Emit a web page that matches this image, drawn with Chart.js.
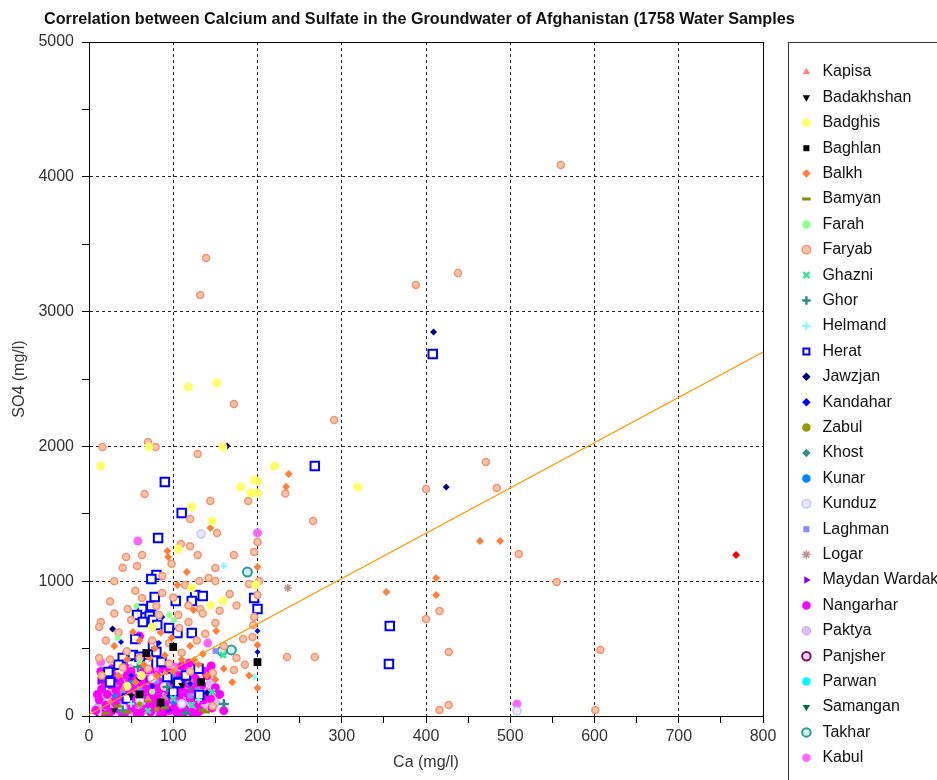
<!DOCTYPE html>
<html>
<head>
<meta charset="utf-8">
<script src="https://cdn.jsdelivr.net/npm/chart.js@4.4.1/dist/chart.umd.min.js"></script>
<style>
  html, body { margin: 0; padding: 0; background: #fff; overflow: hidden; }
  #outer { width: 937px; height: 780px; overflow: hidden; }
  #wrap { position: relative; width: 945px; height: 780px; }
  #title {
    position: absolute; left: 44px; top: 9px; line-height: 20px;
    font: bold 16.2px "Liberation Sans", Arial, sans-serif; color: #111;
    white-space: nowrap;
  }
</style>
</head>
<body>
<div id="outer">
<div id="wrap">
  <canvas id="chart"></canvas>
  <div id="title">Correlation between Calcium and Sulfate in the Groundwater of Afghanistan (1758 Water Samples</div>
</div>
</div>
<script>
// Provinces in legend order
const provinces = ["Kapisa", "Badakhshan", "Badghis", "Baghlan", "Balkh", "Bamyan", "Farah", "Faryab",
  "Ghazni", "Ghor", "Helmand", "Herat", "Jawzjan", "Kandahar", "Zabul", "Khost", "Kunar", "Kunduz",
  "Laghman", "Logar", "Maydan Wardak", "Nangarhar", "Paktya", "Panjsher", "Parwan", "Samangan", "Takhar", "Kabul"];

// [Ca, SO4] in mg/l
const kapisa = [[40,200],[90,320],[70,130],[25,110]];
const badakhshan = [[50,150],[85,90],[110,230],[30,40]];
const badghis = [[118,2441],[152,2470],[14,1855],[71,1996],[159,1996],[220,1855],[180,1699],[196,1750],
  [200,1743],[192,1654],[200,1654],[319,1699],[122,1550],[146,1447],[106,1239],[122,950],[144,823],
  [159,853],[198,972],[75,660],[45,220],[62,300]];
const baghlan = [[200,400],[68,467],[100,512],[133,252],[60,160],[85,100]];
const balkh = [[237,1795],[234,1700],[464,1298],[488,1298],[353,920],[412,1024],[412,898],[200,208],
  [144,1395],[93,1224],[94,1180],[200,1106],[116,1068],[105,972],[124,786],[151,630],[52,623],[200,527],
  [125,415],[60,560],[78,500],[90,450],[110,420],[130,380],[100,330],[80,300],[140,300],[65,380],[45,420],
  [35,300],[150,270],[160,350],[170,250],[190,300],[120,520],[85,620],[30,520],[55,250],[72,430],[98,580],[135,460]];
const bamyan = [[139,30],[70,111],[34,74],[46,30],[135,44],[90,60],[20,20]];
const farah = [[56,816],[95,749],[34,578],[101,712],[60,400],[75,180]];
const faryab = [[560,4087],[139,3398],[132,3123],[438,3286],[388,3197],[291,2196],[172,2315],[16,1996],
  [70,2033],[79,1996],[129,1944],[471,1884],[484,1691],[400,1684],[233,1650],[66,1647],[144,1595],
  [189,1595],[120,1461],[152,1357],[200,1291],[196,1217],[63,1194],[57,1113],[109,1276],[129,1194],
  [172,1194],[150,1098],[87,1039],[142,1024],[150,1001],[131,1001],[114,972],[202,1001],[87,912],[63,875],
  [80,816],[46,794],[167,905],[132,794],[106,749],[200,898],[14,697],[50,712],[83,749],[107,653],[118,697],
  [150,690],[183,571],[194,586],[196,734],[195,675],[172,341],[147,319],[147,74],[266,1447],[235,438],
  [268,438],[510,1202],[555,994],[607,490],[601,44],[416,779],[400,720],[427,475],[427,82],[416,44],
  [30,1000],[40,1100],[25,850],[55,930],[35,620],[20,560],[45,480],[60,430],[75,560],[95,540],[110,470],
  [128,560],[138,610],[160,520],[175,430],[185,380],[120,330],[95,390],[70,350],[40,360],[25,420],[12,430],
  [15,300],[100,880],[118,820],[135,760],[155,780],[175,820],[190,980],[12,660],[30,760],[44,1180],[98,1130],[120,1260]];
const ghazni = [[159,452],[146,178],[122,82],[70,40],[100,130]];
const ghor = [[160,89],[58,363],[93,215],[40,40],[115,20]];
const helmand = [[160,1113],[196,290],[130,120],[50,90]];
const herat = [[408,2685],[268,1855],[90,1736],[110,1506],[357,668],[356,386],[82,1320],[80,1046],[74,1016],
  [78,883],[103,853],[126,898],[122,853],[135,890],[196,875],[200,794],[74,816],[63,794],[57,749],[72,742],
  [64,697],[76,712],[81,675],[55,571],[95,653],[105,616],[122,616],[46,445],[52,452],[76,519],[80,475],
  [70,393],[86,400],[23,326],[107,252],[131,156],[106,245],[93,290],[40,430],[60,440],[35,380],[25,250],
  [115,300],[130,350],[100,180],[45,130]];
const jawzjan = [[409,2849],[424,1699],[164,2003],[28,645],[100,250],[60,280],[140,170]];
const kandahar = [[38,549],[83,541],[200,630],[200,475],[87,735],[50,300],[75,220],[120,240],[95,150]];
const zabul = [[60,90],[100,150],[80,50]];
const khost = [[40,110],[90,70],[120,200]];
const kunar = [[50,250],[100,100],[75,180],[30,150]];
const kunduz = [[133,1350],[508,37],[131,163],[90,220],[60,120],[110,90],[40,60],[75,280]];
const laghman = [[150,482],[129,193],[80,260],[100,290],[60,200],[120,150],[40,180]];
const logar = [[236,950],[120,252],[90,140],[60,80]];
const maydanWardak = [[13,260],[30,262],[50,258],[70,262],[90,258],[94,44],[110,260],[60,120]];
const nangarhar = [[8,40],[12,120],[15,200],[18,260],[20,80],[22,160],[25,30],[26,230],[28,300],[30,110],
  [32,190],[35,50],[36,260],[38,140],[40,220],[42,20],[44,90],[45,300],[47,170],[48,250],[50,60],[52,130],
  [54,210],[55,280],[57,20],[58,100],[60,170],[62,240],[63,320],[65,50],[66,140],[68,200],[70,270],[72,80],
  [73,30],[75,160],[76,230],[78,110],[80,300],[81,60],[83,190],[84,250],[86,130],[88,20],[89,210],[90,90],
  [92,280],[94,160],[95,40],[97,230],[99,120],[100,180],[102,70],[104,260],[105,20],[107,150],[109,210],
  [110,100],[112,290],[114,50],[116,170],[118,240],[120,130],[122,30],[124,200],[126,280],[128,90],[130,160],
  [132,40],[134,230],[136,120],[27,350],[50,330],[72,340],[95,320],[118,330],[140,300],[14,330],[20,10],
  [40,10],[60,5],[85,8],[108,12],[128,15],[33,80],[57,260],[82,150],[106,300],[125,240],[10,160],[144,130],
  [146,60],[150,210],[138,330],[88,350],[64,380],[42,370],[110,370],[155,160],[160,40],[60,593],[145,371],[119,393]];
const paktya = [[10,50],[16,150],[22,250],[28,60],[34,180],[38,100],[43,280],[46,40],[51,160],[56,220],
  [59,80],[64,300],[67,120],[71,190],[74,40],[79,250],[82,90],[85,170],[91,230],[93,60],[96,290],[101,140],
  [103,30],[106,200],[111,80],[113,250],[117,120],[121,190],[123,60],[127,270],[131,110],[24,330],[48,350],
  [70,330],[98,340],[31,20],[53,10],[77,15],[99,20],[119,25],[62,30],[87,40],[17,90],[37,240],[58,140],
  [112,160],[140,90],[133,200],[150,100],[145,250]];
const panjsher = [[13,22],[77,89],[110,30],[40,50],[95,15]];
const parwan = [[20,30],[35,15],[60,40],[80,20],[100,60],[45,100],[110,10],[125,70],[10,80]];
const samangan = [[116,156],[82,245],[118,148],[52,22],[100,15],[30,90],[70,60]];
const takhar = [[188,1068],[169,490],[158,482],[55,60],[70,100],[30,40],[100,30],[85,180]];
const kabul = [[58,1298],[200,1358],[508,89],[141,541],[102,363],[14,400],[20,300],[35,250],[55,200],
  [70,160],[88,240],[105,200],[120,300],[15,150],[40,120],[65,60],[90,100],[110,40],[130,120],[25,60],
  [48,320],[80,330],[140,180],[95,280],[10,60],[75,20]];
const outlier = [[768,1194]];

// fitted line end points
const trendCa = [0, 800];
const trendSO4 = [12, 2700];

const seriesData = [kapisa, badakhshan, badghis, baghlan, balkh, bamyan, farah, faryab, ghazni, ghor,
  helmand, herat, jawzjan, kandahar, zabul, khost, kunar, kunduz, laghman, logar, maydanWardak,
  nangarhar, paktya, panjsher, parwan, samangan, takhar, kabul];

// marker look per province
const markerStyles = [
  { s: "triangle", r: 4, bg: "#ff8080", bc: "#ff8080", bw: 0 },
  { s: "triangle", r: 4, bg: "#000", bc: "#000", bw: 0, rot: 180 },
  { s: "circle", r: 4.5, bg: "#ffff66", bc: "#ffff66", bw: 0 },
  { s: "rect", r: 5.5, bg: "#000", bc: "#000", bw: 0 },
  { s: "rectRot", r: 4, bg: "#ff7f3a", bc: "#ff7f3a", bw: 0 },
  { s: "line", r: 4, bg: "#8c8c00", bc: "#8c8c00", bw: 3 },
  { s: "circle", r: 3, bg: "#90ff90", bc: "#90ff90", bw: 0 },
  { s: "circle", r: 3.5, bg: "#f9c4aa", bc: "#f29470", bw: 1.5 },
  { s: "crossRot", r: 4, bg: "#33e899", bc: "#33e899", bw: 2.5 },
  { s: "cross", r: 5, bg: "#2e8b8b", bc: "#2e8b8b", bw: 2.5 },
  { s: "cross", r: 3.5, bg: "#80ffff", bc: "#80ffff", bw: 2 },
  { s: "rect", r: 6, bg: "#fff", bc: "#0000ff", bw: 2 },
  { s: "rectRot", r: 3.5, bg: "#000080", bc: "#000080", bw: 0 },
  { s: "rectRot", r: 3, bg: "#0000ff", bc: "#0000ff", bw: 0 },
  { s: "circle", r: 2.5, bg: "#999900", bc: "#999900", bw: 0 },
  { s: "rectRot", r: 2.5, bg: "#3c8c8c", bc: "#3c8c8c", bw: 0 },
  { s: "circle", r: 2.5, bg: "#0088ff", bc: "#0088ff", bw: 0 },
  { s: "circle", r: 4, bg: "#ebebff", bc: "#c4c4ff", bw: 1.5 },
  { s: "rect", r: 4, bg: "#8888ff", bc: "#8888ff", bw: 0 },
  { s: "star", r: 4, bg: "#c09090", bc: "#c09090", bw: 1.5 },
  { s: "triangle", r: 5, bg: "#8800ff", bc: "#8800ff", bw: 0, rot: 90 },
  { s: "circle", r: 4.5, bg: "#ff00ff", bc: "#ff00ff", bw: 0 },
  { s: "circle", r: 4.5, bg: "#dcbcff", bc: "#c9a2f2", bw: 1 },
  { s: "circle", r: 4, bg: "#f0e0f0", bc: "#800080", bw: 2 },
  { s: "circle", r: 2.5, bg: "#00ffff", bc: "#00ffff", bw: 0 },
  { s: "triangle", r: 6, bg: "#007040", bc: "#007040", bw: 0, rot: 180 },
  { s: "circle", r: 4.5, bg: "#d0f0f0", bc: "#2a9a9a", bw: 2 },
  { s: "circle", r: 4.5, bg: "#ff66ff", bc: "#ff66ff", bw: 0 }
];

const toXY = pts => pts.map(p => ({ x: p[0], y: p[1] }));

const datasets = [{
  label: "",
  data: trendCa.map((c, i) => ({ x: c, y: trendSO4[i] })),
  showLine: true,
  borderColor: "#ff9900",
  borderWidth: 1.2,
  pointRadius: 0
}, {
  label: "",
  data: toXY(outlier),
  pointStyle: "rectRot",
  pointRadius: 4,
  backgroundColor: "#ff0000",
  borderColor: "#ff0000",
  borderWidth: 0
}];

provinces.forEach((name, i) => {
  const st = markerStyles[i];
  datasets.push({
    label: name,
    data: toXY(seriesData[i]),
    pointStyle: st.s,
    pointRadius: st.r,
    pointRotation: st.rot || 0,
    backgroundColor: st.bg,
    borderColor: st.bc,
    borderWidth: st.bw
  });
});

// box around the legend
const legendFrame = {
  id: "legendFrame",
  afterDraw(chart) {
    const lg = chart.legend;
    const ctx = chart.ctx;
    ctx.save();
    ctx.strokeStyle = "#333";
    ctx.lineWidth = 1;
    ctx.strokeRect(Math.round(lg.left - 1) + 0.5, 42.5, 400, 800);
    ctx.restore();
  }
};

const FONT = "'Liberation Sans', Arial, sans-serif";
Chart.defaults.font.family = FONT;

new Chart(document.getElementById("chart"), {
  type: "scatter",
  data: { datasets: datasets },
  plugins: [legendFrame],
  options: {
    responsive: true,
    maintainAspectRatio: false,
    animation: false,
    layout: { padding: { left: 9, top: 0, right: 0, bottom: 0 } },
    plugins: {
      tooltip: { enabled: false },
      legend: {
        position: "right",
        align: "start",
        title: { display: true, text: " ", font: { size: 10 }, padding: { top: 42.6, bottom: 0 } },
        labels: {
          usePointStyle: true,
          boxWidth: 16,
          boxHeight: 6,
          padding: 9.4,
          color: "#111",
          font: { size: 16, family: FONT },
          filter: item => item.text !== ""
        }
      }
    },
    scales: {
      x: {
        type: "linear",
        position: "bottom",
        min: 0, max: 800,
        afterFit: s => { s.height = 64; },
        ticks: {
          stepSize: 50, autoSkip: false, maxRotation: 0, padding: 4,
          color: "#333", font: { size: 16 },
          callback: v => (v % 100 === 0 ? v : "")
        },
        grid: {
          color: c => (c.tick && c.tick.value % 100 === 0 ? "#222" : "rgba(0,0,0,0)"),
          tickColor: "#000",
          tickLength: 7,
          lineWidth: 1
        },
        border: { display: true, color: "#000", width: 1, dash: [3, 3] },
        title: { display: true, text: "Ca (mg/l)", color: "#333", font: { size: 16 }, padding: { top: 4, bottom: 8 } }
      },
      y: {
        type: "linear",
        position: "left",
        min: 0, max: 5000,
        afterFit: s => { s.width = 80; },
        ticks: {
          stepSize: 500, autoSkip: false, padding: 8,
          color: "#333", font: { size: 16 },
          callback: v => (v % 1000 === 0 ? v : "")
        },
        grid: {
          color: c => (c.tick && c.tick.value % 1000 === 0 ? "#222" : "rgba(0,0,0,0)"),
          tickColor: "#000",
          tickLength: 7,
          lineWidth: 1
        },
        border: { display: true, color: "#000", width: 1, dash: [3, 3] },
        title: { display: true, text: "SO4 (mg/l)", color: "#333", font: { size: 16 }, padding: { top: 1, bottom: 4 } }
      },
      xTop: {
        type: "linear",
        position: "top",
        display: true,
        afterFit: s => { s.height = 42; },
        ticks: { display: false },
        grid: { display: false },
        border: { display: true, color: "#000", width: 1 }
      },
      yRight: {
        type: "linear",
        position: "right",
        display: true,
        afterFit: s => { s.width = Math.max(0, s.chart.width - s.chart.legend.width - 763); },
        ticks: { display: false },
        grid: { display: false },
        border: { display: true, color: "#000", width: 1 }
      }
    }
  }
});
</script>
</body>
</html>
